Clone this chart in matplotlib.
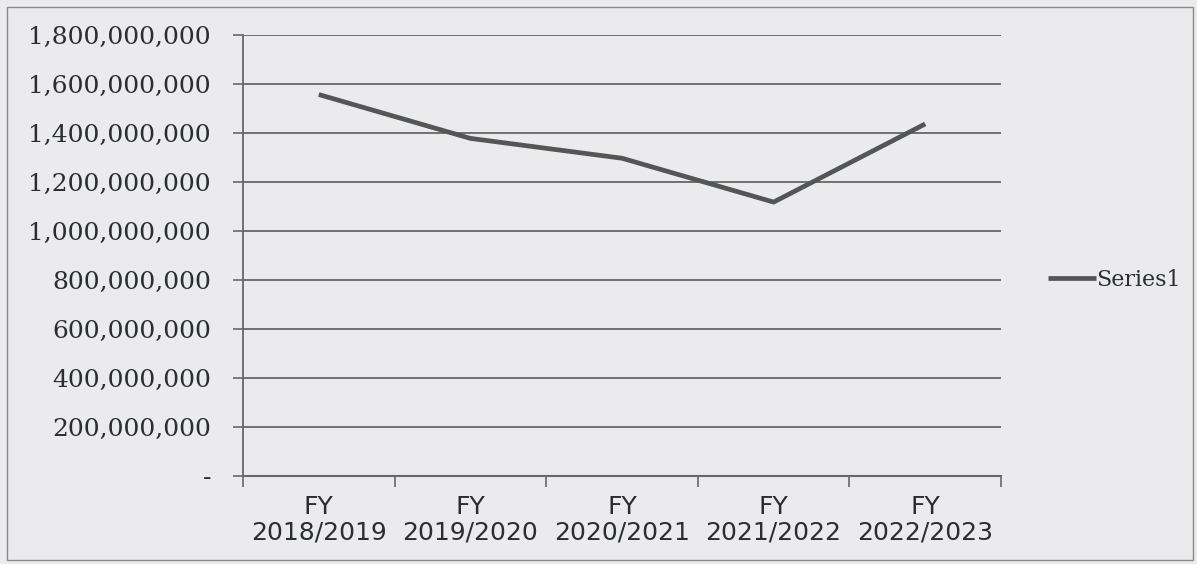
import matplotlib.pyplot as plt
from matplotlib.patches import Rectangle
from matplotlib.ticker import FuncFormatter, FixedLocator

# ── data ────────────────────────────────────────────────────
years = ["FY\n2018/2019", "FY\n2019/2020", "FY\n2020/2021",
         "FY\n2021/2022", "FY\n2022/2023"]
values = [1557000000, 1378000000, 1297000000, 1118000000, 1437000000]
series_name = "Series1"

# ── style ───────────────────────────────────────────────────
bg = "#ebebed"
line_col = "#525655"
grid_col = "#656868"
text_col = "#2a2e2e"

fig = plt.figure(figsize=(11.97, 5.64), dpi=100, facecolor=bg)
ax = fig.add_axes([243 / 1197, 1 - 476 / 564, (1001 - 243) / 1197, (476 - 35) / 564])
ax.set_facecolor(bg)

x = list(range(len(years)))
ax.plot(x, values, color=line_col, linewidth=3.4, solid_capstyle="butt",
        label=series_name, zorder=3)

ax.set_xlim(-0.5, len(years) - 0.5)
ax.set_ylim(0, 1800000000)
ax.set_yticks(range(0, 1800000001, 200000000))
ax.yaxis.set_major_formatter(FuncFormatter(
    lambda v, p: "-" if v == 0 else f"{int(v):,}"))
ax.grid(axis="y", color=grid_col, linewidth=1.3, zorder=1)

ax.set_xticks(x)
ax.set_xticklabels(years, fontsize=18, family=["DejaVu Sans"],
                   color=text_col, linespacing=1.05)
ax.xaxis.set_minor_locator(FixedLocator([i - 0.5 for i in range(len(years) + 1)]))
ax.tick_params(axis="x", which="major", length=0, pad=14)
ax.tick_params(axis="x", which="minor", length=8, width=1.2, color=grid_col)
ax.tick_params(axis="y", length=7, width=1.2, color=grid_col, pad=16,
               labelsize=18, labelcolor=text_col)
for lbl in ax.get_yticklabels():
    lbl.set_family("DejaVu Serif")

for s in ["top", "right"]:
    ax.spines[s].set_visible(False)
ax.spines["left"].set_color(grid_col)
ax.spines["left"].set_linewidth(1.3)
ax.spines["bottom"].set_color(grid_col)
ax.spines["bottom"].set_linewidth(1.5)

leg = ax.legend(loc="center left", bbox_to_anchor=(1.035, 0.445), frameon=False,
                handlelength=2.2, handletextpad=0.0,
                prop={"family": "DejaVu Serif", "size": 16})
for t in leg.get_texts():
    t.set_color(text_col)

# outer chart border
fig.patches.append(Rectangle((7 / 1197, 4 / 564), 1186 / 1197, 553 / 564,
                             transform=fig.transFigure, fill=False,
                             edgecolor="#8a8a8a", linewidth=1.0))

fig.savefig("out.png", dpi=100, facecolor=bg)
